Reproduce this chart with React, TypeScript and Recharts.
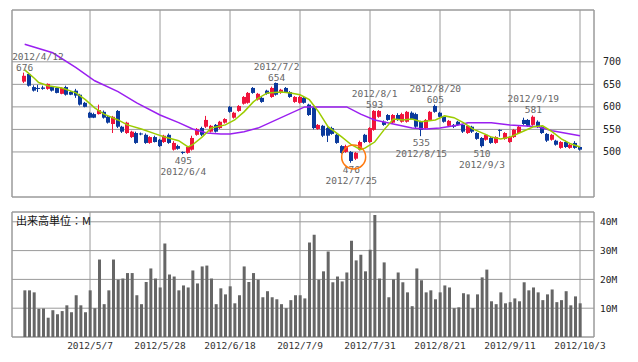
import React from "react";
import { ComposedChart, Bar, Line, XAxis, YAxis, CartesianGrid, ReferenceDot, ReferenceArea } from "recharts";

// daily candles, 2012/4/12 .. 2012/10/3 (index = trading day)
const opens = [
  656, 673, 644, 642, 643, 640, 644, 642, 629, 644, 633, 636, 627, 609, 587, 584, 584, 589, 578, 562,
  591, 556, 542, 533, 542, 541, 538, 520, 533, 527, 522, 538, 505, 513, 500, 498, 505, 538, 553, 556,
  545, 560, 553, 565, 600, 576, 591, 607, 609, 642, 616, 620, 636, 622, 653, 631, 642, 633, 611, 609,
  620, 605, 598, 551, 558, 553, 553, 538, 513, 500, 500, 485, 505, 538, 522, 549, 578, 567, 582, 565,
  582, 567, 567, 587, 584, 567, 553, 571, 602, 587, 578, 558, 560, 567, 560, 542, 556, 542, 531, 527,
  531, 520, 549, 529, 522, 533, 542, 571, 571, 560, 567, 556, 540, 527, 525, 509, 522, 509, 520, 511,
];
const highs = [
  676, 675, 648, 649, 647, 652, 645, 644, 643, 647, 635, 640, 629, 611, 589, 587, 605, 592, 580, 580,
  593, 558, 567, 547, 545, 543, 541, 535, 536, 529, 538, 541, 524, 516, 501, 513, 536, 553, 556, 580,
  560, 562, 569, 575, 602, 589, 604, 624, 633, 644, 631, 622, 638, 645, 654, 640, 644, 635, 624, 625,
  622, 607, 600, 562, 560, 555, 556, 540, 515, 516, 502, 500, 525, 540, 555, 593, 593, 570, 584, 584,
  586, 587, 591, 590, 587, 569, 573, 591, 605, 589, 580, 571, 562, 569, 562, 560, 558, 544, 533, 540,
  533, 535, 550, 544, 535, 551, 558, 576, 573, 581, 570, 558, 542, 540, 527, 524, 525, 518, 524, 513,
];
const lows = [
  653, 645, 634, 633, 638, 638, 634, 630, 628, 625, 626, 620, 603, 599, 575, 575, 583, 574, 563, 542,
  553, 542, 540, 531, 518, 537, 518, 518, 521, 511, 520, 518, 503, 505, 495, 496, 503, 536, 535, 553,
  543, 543, 551, 563, 587, 574, 589, 605, 607, 629, 614, 609, 627, 620, 625, 629, 631, 620, 609, 607,
  607, 580, 550, 549, 533, 522, 538, 518, 496, 498, 476, 482, 503, 520, 520, 547, 576, 558, 569, 563,
  569, 565, 565, 571, 553, 535, 551, 569, 587, 576, 565, 556, 553, 558, 542, 540, 542, 527, 510, 525,
  518, 518, 534, 527, 520, 531, 540, 560, 556, 558, 553, 540, 522, 525, 514, 507, 509, 507, 507, 503,
];
const closes = [
  669, 647, 636, 640, 640, 651, 636, 631, 642, 627, 627, 625, 605, 600, 576, 576, 593, 576, 565, 578,
  556, 545, 565, 545, 520, 539, 520, 533, 522, 513, 536, 520, 520, 507, 498, 511, 531, 551, 538, 571,
  558, 545, 567, 573, 589, 587, 602, 622, 631, 631, 629, 611, 629, 642, 627, 638, 633, 622, 622, 622,
  609, 582, 553, 560, 536, 536, 540, 520, 498, 513, 480, 498, 522, 522, 553, 591, 591, 560, 571, 582,
  571, 584, 589, 573, 556, 549, 571, 589, 589, 578, 567, 569, 556, 560, 545, 558, 545, 529, 513, 538,
  520, 533, 548, 542, 533, 549, 556, 562, 558, 578, 556, 542, 525, 538, 516, 522, 511, 516, 509, 505,
];
// volume, millions of shares
const volumes = [
  16.2, 16.2, 15.5, 9.8, 9.9, 6.7, 9.3, 7.9, 9.0, 11.0, 8.6, 14.5, 11.0, 8.6, 16.2, 10.0, 26.9, 11.4, 16.2, 26.9,
  19.9, 20.3, 22.2, 22.2, 14.5, 11.4, 19.1, 23.8, 20.3, 17.2, 32.5, 21.7, 21.0, 16.2, 17.9, 17.2, 23.1, 18.6, 24.5, 24.8,
  20.3, 11.4, 16.9, 14.8, 17.6, 11.7, 14.5, 24.5, 19.1, 22.2, 19.9, 13.8, 15.9, 13.8, 13.1, 11.4, 10.0, 12.8, 14.5, 14.5,
  13.4, 32.8, 35.5, 19.9, 22.8, 29.7, 19.0, 21.0, 19.3, 22.4, 33.4, 26.6, 28.6, 22.8, 30.3, 42.4, 20.3, 25.9, 13.8, 20.0,
  22.4, 19.0, 15.5, 10.7, 23.8, 19.7, 15.5, 16.2, 13.1, 15.5, 17.9, 17.2, 10.0, 10.3, 15.2, 14.8, 10.0, 14.8, 20.7, 23.4,
  12.4, 11.4, 15.5, 11.7, 12.1, 13.4, 12.4, 19.0, 16.2, 17.2, 15.5, 12.8, 14.8, 16.5, 12.1, 12.8, 15.9, 11.0, 14.1, 11.7,
];

// moving averages, read at [day index, price]
const maShort: [number, number][] = [
  [0, 682], [2, 664], [3, 654], [5, 647], [8, 642], [11, 631], [13, 616], [15, 598], [17, 584], [20, 571],
  [22, 560], [25, 551], [28, 540], [30, 533], [33, 525], [35, 511], [36, 516], [38, 533], [40, 553], [43, 560],
  [45, 571], [47, 589], [49, 611], [50, 619], [52, 631], [55, 633], [57, 631], [59, 627], [61, 616], [63, 589],
  [65, 556], [68, 533], [70, 516], [72, 505], [73, 509], [75, 522], [77, 549], [79, 573], [81, 571], [83, 573],
  [85, 567], [88, 571], [90, 580], [92, 576], [94, 565], [96, 551], [99, 538], [100, 533], [102, 529], [104, 533],
  [106, 542], [109, 556], [111, 558], [113, 545], [115, 529], [117, 518], [119, 511],
];
const maLong: [number, number][] = [
  [0, 739], [6, 720], [11, 687], [15, 658], [20, 634], [24, 609], [29, 582], [33, 565], [36, 551], [39, 542],
  [42, 540], [44, 540], [47, 545], [50, 553], [60, 600], [66, 600], [69, 600], [72, 584], [75, 571], [80, 560],
  [83, 553], [86, 551], [89, 553], [93, 560], [95, 565], [100, 565], [104, 560], [110, 556], [113, 547], [119, 536],
];

const tickIdx = [14, 29, 44, 59, 74, 89, 104, 119];
const tickDates = ["2012/5/7", "2012/5/28", "2012/6/18", "2012/7/9", "2012/7/31", "2012/8/21", "2012/9/11", "2012/10/3"];
const priceTicks = [500, 550, 600, 650, 700];
const volTicks = [10, 20, 30, 40];

// high / low callouts
const notes = [
  { i: 0, date: "2012/4/12", kind: "high" },
  { i: 34, date: "2012/6/4", kind: "low" },
  { i: 54, date: "2012/7/2", kind: "high" },
  { i: 70, date: "2012/7/25", kind: "low" },
  { i: 75, date: "2012/8/1", kind: "high" },
  { i: 85, date: "2012/8/15", kind: "low" },
  { i: 88, date: "2012/8/20", kind: "high" },
  { i: 98, date: "2012/9/3", kind: "low" },
  { i: 109, date: "2012/9/19", kind: "high" },
];
const circleMark = { i: 70.5, v: 489 };

const RED = "#f0143c";
const BLUE = "#0b3a9c";
const GRID = "#9a9a9a";
const MONO = "'DejaVu Sans Mono', monospace";
const X_DOMAIN: [number, number] = [-2.72, 122];

const shortMap = new Map(maShort);
const longMap = new Map(maLong);
const rows = opens.map((o, i) => ({
  i, o, h: highs[i], l: lows[i], c: closes[i], vol: volumes[i],
  maS: shortMap.get(i) ?? null,
  maL: longMap.get(i) ?? null,
}));

function Candle(props: any) {
  const { x, y, width, height, payload } = props;
  if (!payload) return null;
  const { o, h, l, c } = payload;
  const toY = (v: number) => (h === l ? y : y + ((h - v) / (h - l)) * height);
  const color = c >= o ? RED : BLUE;
  const left = Math.round(x + width / 2 - 2);
  const top = toY(Math.max(o, c));
  const bot = toY(Math.min(o, c));
  return (
    <g>
      <line x1={left + 1.5} x2={left + 1.5} y1={y} y2={y + height} stroke={color} strokeWidth={1} />
      <rect x={left} y={top} width={4} height={Math.max(bot - top, 1)} fill={color} />
    </g>
  );
}

function NoteLabel({ cx, cy, date, value, kind }: any) {
  const w = date.length * 5.75;
  const tx = Math.max(cx, 12 + w / 2);
  const valY = kind === "high" ? cy - 2 : cy + 10;
  const dateY = kind === "high" ? cy - 13 : cy + 21;
  return (
    <g fontFamily={MONO} fontSize={9.5} fill="#666">
      <text x={cx} y={valY} textAnchor="middle">{value}</text>
      <text x={tx} y={dateY} textAnchor="middle">{date}</text>
    </g>
  );
}

export default function App() {
  return (
    <div style={{ position: "absolute", left: 0, top: 0, width: 638, height: 362, background: "#fff" }}>
      <ComposedChart width={638} height={200} data={rows} margin={{ top: 10, right: 0, bottom: 3, left: 12 }}>
        <CartesianGrid stroke={GRID} />
        <XAxis dataKey="i" type="number" domain={X_DOMAIN} ticks={tickIdx} allowDataOverflow hide />
        <YAxis
          orientation="right" width={44} domain={[400, 815]} ticks={priceTicks} interval={0}
          axisLine={false} tickLine={false} tickMargin={3}
          tick={{ fontSize: 10, fontFamily: MONO, fill: "#222" }}
        />
        <ReferenceArea x1={X_DOMAIN[0]} x2={X_DOMAIN[1]} y1={400} y2={815} fill="none" stroke={GRID} />
        <Bar dataKey={(d: any) => [d.l, d.h]} barSize={4} shape={Candle} isAnimationActive={false} />
        <Line dataKey="maL" stroke="#9a1ff0" strokeWidth={1.5} dot={false} connectNulls isAnimationActive={false} />
        <Line dataKey="maS" stroke="#9ccc00" strokeWidth={1.5} dot={false} connectNulls isAnimationActive={false} />
        {notes.map((n) => {
          const value = n.kind === "high" ? highs[n.i] : lows[n.i];
          return (
            <ReferenceDot
              key={n.date} x={n.i} y={value} r={1}
              shape={(p: any) => <NoteLabel cx={p.cx} cy={p.cy} date={n.date} value={value} kind={n.kind} />}
            />
          );
        })}
        <ReferenceDot x={circleMark.i} y={circleMark.v} r={12} fill="none" stroke="#ff7a10" strokeWidth={1.5} />
      </ComposedChart>
      <div style={{ position: "absolute", left: 0, top: 200 }}>
        <ComposedChart width={638} height={162} data={rows} margin={{ top: 12, right: 0, bottom: 0, left: 12 }}>
          <CartesianGrid stroke={GRID} />
          <XAxis
            dataKey="i" type="number" domain={X_DOMAIN} ticks={tickIdx} interval={0} allowDataOverflow height={25}
            axisLine={false} tickLine={false} tickSize={4} tickMargin={1}
            tickFormatter={(v: number) => tickDates[tickIdx.indexOf(v)] ?? ""}
            tick={{ fontSize: 9.5, fontFamily: MONO, fill: "#333" }}
          />
          <YAxis
            orientation="right" width={44} domain={[0, 43.4]} ticks={volTicks} interval={0}
            axisLine={false} tickLine={false} tickMargin={0}
            tickFormatter={(v: number) => `${v}M`}
            tick={{ fontSize: 9.5, fontFamily: MONO, fill: "#222" }}
          />
          <ReferenceArea x1={X_DOMAIN[0]} x2={X_DOMAIN[1]} y1={0} y2={43.4} fill="none" stroke={GRID} />
          <Bar dataKey="vol" barSize={3} fill="#666" isAnimationActive={false} />
        </ComposedChart>
        <div style={{ position: "absolute", left: 16, top: 14, fontSize: 11, lineHeight: "12px", fontFamily: "'Noto Sans CJK JP', sans-serif", color: "#111" }}>
          出来高単位：M
        </div>
      </div>
    </div>
  );
}
